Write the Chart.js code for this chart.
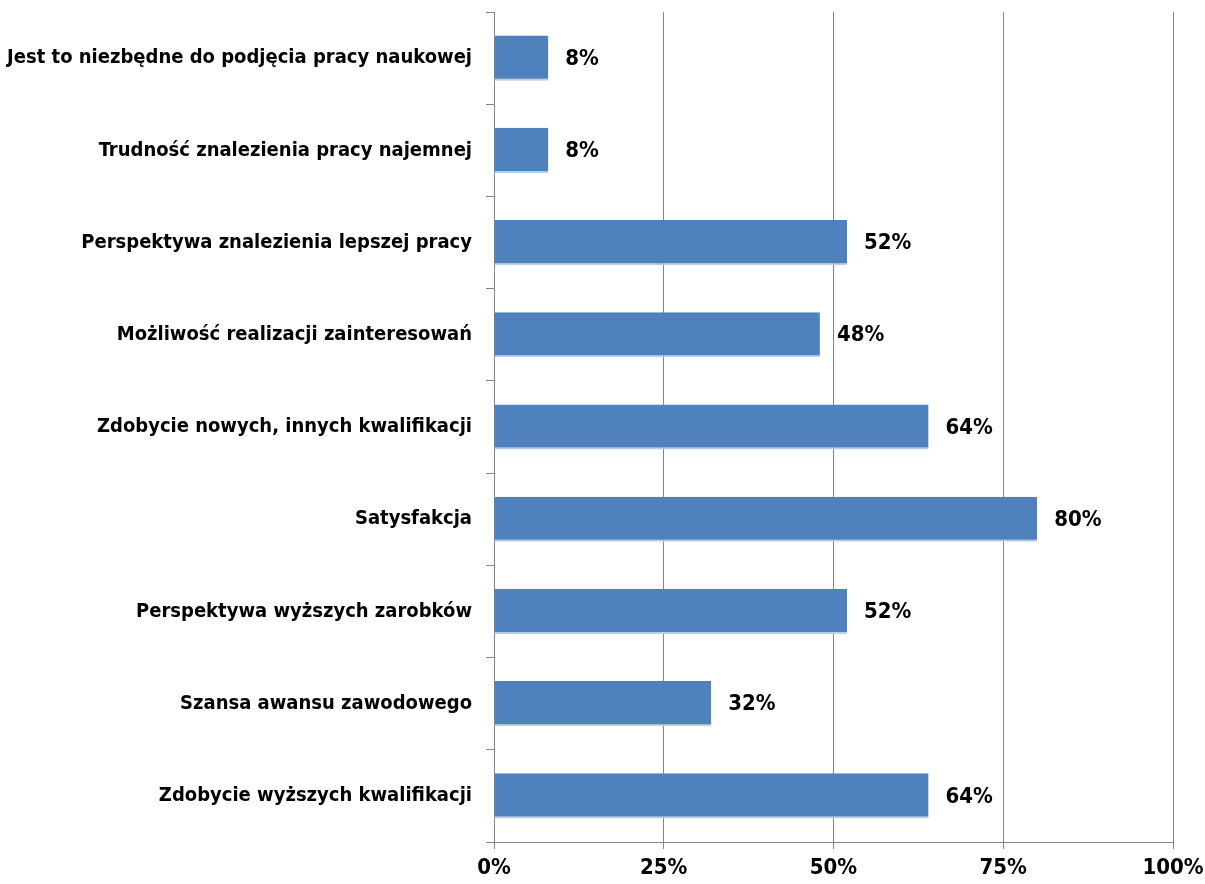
<!DOCTYPE html>
<html>
<head>
<meta charset="utf-8">
<script src="https://cdn.jsdelivr.net/npm/chart.js@4/dist/chart.umd.min.js"></script>
<style>
  html, body { margin: 0; padding: 0; background: #fff; }
  #wrap { width: 1205px; height: 884px; }
</style>
</head>
<body>
<div id="wrap"><canvas id="wykres"></canvas></div>
<script>
const kategorie = [
    "Jest to niezbędne do podjęcia pracy naukowej",
    "Trudność znalezienia pracy najemnej",
    "Perspektywa znalezienia lepszej pracy",
    "Możliwość realizacji zainteresowań",
    "Zdobycie nowych, innych kwalifikacji",
    "Satysfakcja",
    "Perspektywa wyższych zarobków",
    "Szansa awansu zawodowego",
    "Zdobycie wyższych kwalifikacji"
];
const wartosci = [8, 8, 52, 48, 64, 80, 52, 32, 64];
const osX = [0, 25, 50, 75, 100];

const czcionka = "'Liberation Sans Narrow', 'DejaVu Sans Condensed', 'Arial Narrow', sans-serif";

const etykiety = {
    id: "etykiety",
    afterDatasetsDraw(chart) {
        const ctx = chart.ctx;
        const meta = chart.getDatasetMeta(0);
        ctx.save();
        ctx.font = "bold 22px " + czcionka;
        ctx.fillStyle = "#000";
        ctx.textAlign = "left";
        ctx.textBaseline = "middle";
        meta.data.forEach((bar, i) => {
            ctx.fillText(wartosci[i] + "%", bar.x + 17, bar.y + 1);
        });
        ctx.restore();
    }
};

const ctx = document.getElementById("wykres").getContext("2d");
new Chart(ctx, {
    type: "bar",
    data: {
        labels: kategorie,
        datasets: [{
            data: wartosci,
            backgroundColor: "#4F81BD",
            borderColor: "#B9CDE5",
            borderWidth: { top: 0, right: 0, bottom: 2, left: 0 },
            borderSkipped: false,
            barPercentage: 0.49,
            categoryPercentage: 1
        }]
    },
    options: {
        indexAxis: "y",
        responsive: true,
        maintainAspectRatio: false,
        animation: false,
        layout: { padding: { top: 12, right: 32, left: 0, bottom: 0 } },
        plugins: {
            legend: { display: false },
            tooltip: { enabled: false }
        },
        scales: {
            x: {
                min: 0,
                max: 100,
                afterBuildTicks(scale) {
                    scale.ticks = osX.map(v => ({ value: v }));
                },
                afterFit(scale) {
                    scale.height = 42;
                    scale.paddingLeft = 0;
                    scale.paddingRight = 0;
                },
                ticks: {
                    callback: v => v + "%",
                    color: "#000",
                    font: { family: czcionka, size: 22, weight: "bold" },
                    padding: 6,
                    maxRotation: 0
                },
                grid: {
                    color: "#868686",
                    lineWidth: 1,
                    tickLength: 7,
                    drawTicks: true
                },
                border: { color: "#868686", width: 1 }
            },
            y: {
                afterFit(scale) {
                    scale.width = 494;
                    scale.paddingTop = 0;
                    scale.paddingBottom = 0;
                },
                ticks: {
                    color: "#000",
                    font: { family: czcionka, size: 20, weight: "bold" },
                    padding: 14
                },
                grid: {
                    drawOnChartArea: false,
                    color: "#868686",
                    tickLength: 8,
                    offset: true
                },
                border: { color: "#868686", width: 1 }
            }
        }
    },
    plugins: [etykiety]
});
</script>
</body>
</html>
